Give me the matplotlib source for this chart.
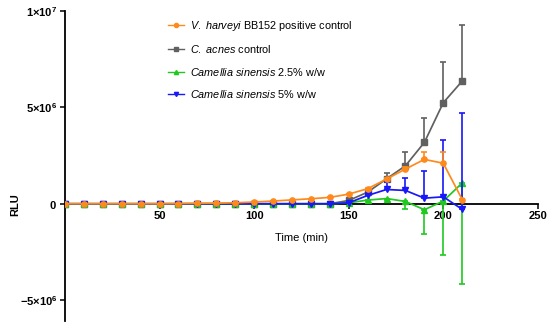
import matplotlib
matplotlib.use('Agg')
import matplotlib.pyplot as plt
from matplotlib.lines import Line2D
import numpy as np

# ---- data (RLU, 10-min sampling) ----
time_min = [0, 10, 20, 30, 40, 50, 60, 70, 80, 90, 100,
            110, 120, 130, 140, 150, 160, 170, 180, 190, 200, 210]

harveyi = [0, 0, 0, 0, 0, 0, 0.01e6, 0.02e6, 0.03e6, 0.05e6, 0.09e6,
           0.14e6, 0.2e6, 0.26e6, 0.33e6, 0.5e6, 0.78e6, 1.28e6, 1.8e6, 2.3e6, 2.1e6, 0.22e6]
harveyi_err = [0, 0, 0, 0, 0, 0, 0, 0, 0, 0, 0,
               0, 0, 0, 0.02e6, 0.03e6, 0.04e6, 0.06e6, 0.1e6, 0.37e6, 0.6e6, 0.05e6]

acnes = [0, 0, 0, 0, 0, 0, 0, 0, 0, 0, 0,
         0, 0, 0, 0, 0.17e6, 0.6e6, 1.29e6, 1.97e6, 3.18e6, 5.24e6, 6.36e6]
acnes_err = [0, 0, 0, 0, 0, 0, 0, 0, 0, 0, 0,
             0, 0, 0, 0, 0.03e6, 0.08e6, 0.33e6, 0.73e6, 1.29e6, 2.12e6, 2.93e6]

cs_25 = [0, 0, 0, 0, 0, 0, 0, 0, 0, 0, 0,
         0, 0, 0, 0, 0.05e6, 0.19e6, 0.27e6, 0.12e6, -0.31e6, 0.14e6, 1.08e6]
cs_25_err = [0, 0, 0, 0, 0, 0, 0, 0, 0, 0, 0,
             0, 0, 0, 0, 0.02e6, 0.05e6, 0.05e6, 0.38e6, 1.27e6, 2.8e6, 5.24e6]

cs_5 = [0, 0, 0, 0, 0, 0, 0, 0, 0, 0, 0,
        0, 0, 0, 0, 0.05e6, 0.43e6, 0.74e6, 0.69e6, 0.29e6, 0.36e6, -0.29e6]
cs_5_err = [0, 0, 0, 0, 0, 0, 0, 0, 0, 0, 0,
            0, 0, 0, 0, 0.02e6, 0.08e6, 0.41e6, 0.63e6, 1.41e6, 2.92e6, 4.98e6]

labels = [r'$\it{V.\ harveyi}$ BB152 positive control',
          r'$\it{C.\ acnes}$ control',
          r'$\it{Camellia\ sinensis}$ 2.5% w/w',
          r'$\it{Camellia\ sinensis}$ 5% w/w']

xticks = [50, 100, 150, 200, 250]
yticks = [-5e6, 0, 5e6, 1e7]
ytick_labels = [r'$\mathbf{-5{\times}10^{6}}$', r'$\mathbf{0}$',
                r'$\mathbf{5{\times}10^{6}}$', r'$\mathbf{1{\times}10^{7}}$']

plt.rcParams['font.family'] = ['Liberation Sans', 'DejaVu Sans']
plt.rcParams['mathtext.fontset'] = 'custom'
plt.rcParams['mathtext.rm'] = 'Liberation Sans'
plt.rcParams['mathtext.it'] = 'Liberation Sans:italic'
plt.rcParams['mathtext.bf'] = 'Liberation Sans:bold'

fig = plt.figure(figsize=(5.5, 3.29), dpi=100)
ax = fig.add_axes([0.118, 0.023, 0.860, 0.944])

t = np.array(time_min)
zero = np.zeros(len(t))
series = [
    (harveyi, harveyi_err, '#FF8A1C', 'o', 'up', 5),
    (acnes, acnes_err, '#606060', 's', 'up', 2),
    (cs_25, cs_25_err, '#20C820', '^', 'down', 3),
    (cs_5, cs_5_err, '#1818F8', 'v', 'up', 4),
]
handles = []
for (y, e, c, m, side, z), lab in zip(series, labels):
    y = np.array(y)
    e = np.array(e)
    yerr = [zero, e] if side == 'up' else [e, zero]
    ax.errorbar(t, y, yerr=yerr, color=c, marker=m, ms=3.8, lw=1.25,
                elinewidth=1.2, capsize=2.2, capthick=1.2, zorder=z)
    handles.append(Line2D([], [], color=c, marker=m, ms=3, lw=1.0, label=lab))

ax.set_xlim(0, 250)
ax.set_ylim(-6.1e6, 1e7)
ax.spines['left'].set_position(('data', 0))
ax.spines['bottom'].set_position(('data', 0))
ax.spines['top'].set_visible(False)
ax.spines['right'].set_visible(False)
for s in ('left', 'bottom'):
    ax.spines[s].set_linewidth(1.3)
ax.set_xticks(xticks)
ax.set_xticklabels([str(v) for v in xticks], fontweight='bold', fontsize=8)
ax.set_yticks(yticks, ytick_labels, fontsize=8)
ax.tick_params(direction='out', length=3.5, width=1.1, pad=2)

ax.set_xlabel('Time (min)', fontsize=8)
ax.xaxis.set_label_coords(0.5, 0.285)
ax.set_ylabel('RLU', fontsize=8, fontweight='bold')
ax.yaxis.set_label_coords(-0.095, 0.375)

ax.legend(handles=handles, loc='upper left', bbox_to_anchor=(0.288, 0.972),
          bbox_transform=fig.transFigure, frameon=False, fontsize=7.8,
          handlelength=1.45, labelspacing=0.95, handletextpad=0.6)

fig.savefig('out.png', dpi=100)
